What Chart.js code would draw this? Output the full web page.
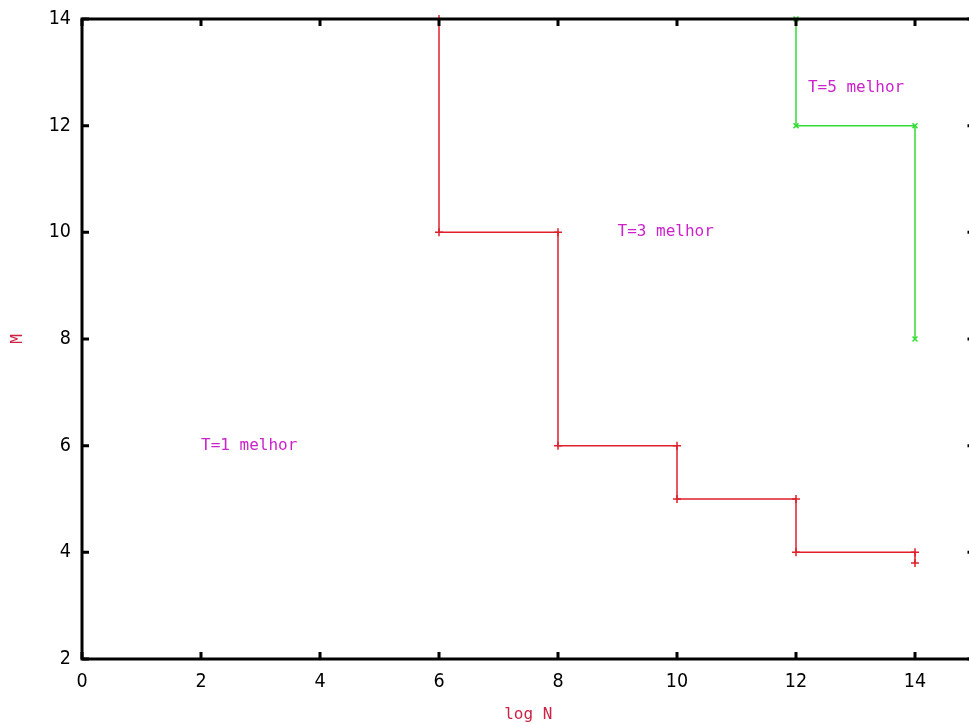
<!DOCTYPE html>
<html>
<head>
<meta charset="utf-8">
<title>M x log N</title>
<script src="https://cdn.jsdelivr.net/npm/chart.js@4.4.1/dist/chart.umd.min.js"></script>
<style>
  html, body { margin: 0; padding: 0; background: #fff; overflow: hidden; }
  #wrap { width: 980px; height: 724px; }
</style>
</head>
<body>
<div id="wrap"><canvas id="plot" width="980" height="724"></canvas></div>
<script>
// boundary between T=1 and T=3 (red) and between T=3 and T=5 (green)
const redX = [6, 6, 8, 8, 10, 10, 12, 12, 14, 14];
const redY = [14, 10, 10, 6, 6, 5, 5, 4, 4, 3.8];
const greenX = [12, 12, 14, 14];
const greenY = [14, 12, 12, 8];

const xTickValues = [0, 2, 4, 6, 8, 10, 12, 14];
const yTickValues = [2, 4, 6, 8, 10, 12, 14];

const noteTexts = ['T=1 melhor', 'T=3 melhor', 'T=5 melhor'];
const noteX = [2, 9, 12.2];
const noteY = [6, 10, 12.7];

const monoFont = "'DejaVu Sans Mono', 'Liberation Mono', monospace";
const tickFont = "'DejaVu Sans Condensed', 'DejaVu Sans', sans-serif";

function toPoints(xs, ys) {
    return xs.map(function(x, i) { return { x: x, y: ys[i] }; });
}

// frame with inward tick marks on all four sides
const framePlugin = {
    id: 'frame',
    afterDatasetsDraw(chart) {
        const ctx = chart.ctx;
        const a = chart.chartArea;
        const xs = chart.scales.x, ys = chart.scales.y;
        ctx.save();
        ctx.strokeStyle = '#000';
        ctx.lineWidth = 3;
        ctx.strokeRect(a.left, a.top, a.right - a.left, a.bottom - a.top);
        const len = 7;
        ctx.beginPath();
        xTickValues.forEach(function(v) {
            const px = xs.getPixelForValue(v);
            ctx.moveTo(px, a.bottom); ctx.lineTo(px, a.bottom - len);
            ctx.moveTo(px, a.top); ctx.lineTo(px, a.top + len);
        });
        yTickValues.forEach(function(v) {
            const py = ys.getPixelForValue(v);
            ctx.moveTo(a.left, py); ctx.lineTo(a.left + len, py);
            ctx.moveTo(a.right, py); ctx.lineTo(a.right - len, py);
        });
        ctx.stroke();
        ctx.restore();
    }
};

// region labels placed in data coordinates
const notesPlugin = {
    id: 'notes',
    afterDatasetsDraw(chart) {
        const ctx = chart.ctx;
        const xs = chart.scales.x, ys = chart.scales.y;
        ctx.save();
        ctx.fillStyle = '#cc22cc';
        ctx.font = '16px ' + monoFont;
        ctx.textAlign = 'left';
        ctx.textBaseline = 'middle';
        noteTexts.forEach(function(t, i) {
            ctx.fillText(t, xs.getPixelForValue(noteX[i]), ys.getPixelForValue(noteY[i]));
        });
        ctx.restore();
    }
};

const ctx = document.getElementById('plot').getContext('2d');
new Chart(ctx, {
    type: 'scatter',
    data: {
        datasets: [
            {
                data: toPoints(redX, redY),
                showLine: true,
                borderColor: '#e0202c',
                borderWidth: 1.5,
                pointStyle: 'cross',
                pointRadius: 4,
                pointBorderColor: '#e0202c',
                pointBorderWidth: 1.5,
                clip: false
            },
            {
                data: toPoints(greenX, greenY),
                showLine: true,
                borderColor: '#33dd33',
                borderWidth: 1.5,
                pointStyle: 'crossRot',
                pointRadius: 3.5,
                pointBorderColor: '#33dd33',
                pointBorderWidth: 1.5,
                clip: false
            }
        ]
    },
    options: {
        responsive: false,
        animation: false,
        layout: { padding: { top: 19, right: 4, left: 0, bottom: 0 } },
        plugins: {
            legend: { display: false },
            tooltip: { enabled: false }
        },
        scales: {
            x: {
                type: 'linear',
                min: 0,
                max: 15,
                afterBuildTicks: function(scale) {
                    scale.ticks = xTickValues.map(function(v) { return { value: v }; });
                },
                afterFit: function(scale) {
                    scale.height = 65;
                    scale.paddingLeft = 0;
                    scale.paddingRight = 0;
                },
                grid: { display: false, drawTicks: false },
                border: { display: false },
                ticks: {
                    color: '#000',
                    padding: 11,
                    font: { family: tickFont, size: 19.5 },
                    maxRotation: 0
                },
                title: {
                    display: true,
                    text: 'log N',
                    color: '#cc2244',
                    font: { family: monoFont, size: 16, lineHeight: 1.2 },
                    padding: { top: 2, bottom: 0 }
                }
            },
            y: {
                type: 'linear',
                min: 2,
                max: 14,
                afterBuildTicks: function(scale) {
                    scale.ticks = yTickValues.map(function(v) { return { value: v }; });
                },
                afterFit: function(scale) {
                    scale.width = 82;
                    scale.paddingTop = 0;
                    scale.paddingBottom = 0;
                },
                grid: { display: false, drawTicks: false },
                border: { display: false },
                ticks: {
                    color: '#000',
                    padding: 11,
                    font: { family: tickFont, size: 19.5 }
                },
                title: {
                    display: true,
                    text: 'M',
                    color: '#cc2244',
                    font: { family: monoFont, size: 16, lineHeight: 1.2 },
                    padding: { top: 8, bottom: 0 }
                }
            }
        }
    },
    plugins: [framePlugin, notesPlugin]
});
</script>
</body>
</html>
